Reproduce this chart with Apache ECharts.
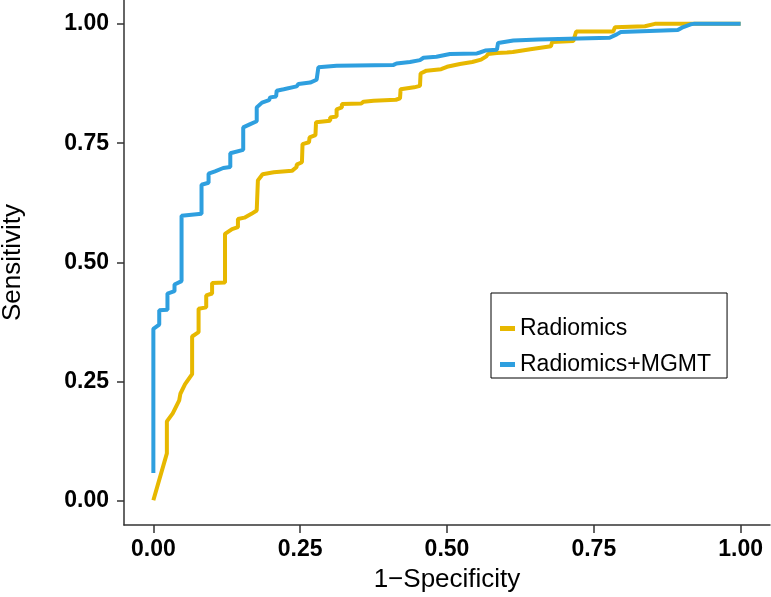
<!DOCTYPE html>
<html>
<head>
<meta charset="utf-8">
<script src="https://cdn.jsdelivr.net/npm/echarts@6/dist/echarts.min.js"></script>
<style>html,body{margin:0;padding:0;background:#fff}#c{width:771px;height:597px}</style>
</head>
<body>
<div id="c"></div>
<script>
var seriesNames = ["Radiomics", "Radiomics+MGMT"];
var tickValues = [0, 0.25, 0.5, 0.75, 1];

var radFpr = [0, 0.023, 0.023, 0.033, 0.044, 0.046, 0.054, 0.066, 0.066, 0.077, 0.077, 0.090, 0.090, 0.100, 0.100, 0.122, 0.122, 0.134, 0.144, 0.144, 0.155, 0.167, 0.176, 0.178, 0.186, 0.205, 0.236, 0.244, 0.244, 0.253, 0.254, 0.265, 0.266, 0.276, 0.277, 0.301, 0.301, 0.312, 0.312, 0.321, 0.321, 0.354, 0.358, 0.375, 0.413, 0.420, 0.421, 0.444, 0.454, 0.455, 0.465, 0.490, 0.500, 0.522, 0.543, 0.558, 0.567, 0.570, 0.585, 0.602, 0.612, 0.642, 0.643, 0.677, 0.679, 0.715, 0.720, 0.783, 0.786, 0.837, 0.854, 1.0];
var radTpr = [0.002, 0.100, 0.167, 0.184, 0.211, 0.225, 0.245, 0.266, 0.345, 0.354, 0.403, 0.406, 0.431, 0.435, 0.457, 0.458, 0.560, 0.570, 0.574, 0.591, 0.594, 0.602, 0.609, 0.672, 0.685, 0.689, 0.692, 0.700, 0.705, 0.710, 0.748, 0.752, 0.762, 0.767, 0.794, 0.797, 0.804, 0.806, 0.821, 0.825, 0.832, 0.833, 0.837, 0.839, 0.841, 0.844, 0.863, 0.867, 0.870, 0.896, 0.902, 0.905, 0.910, 0.916, 0.920, 0.925, 0.932, 0.937, 0.939, 0.940, 0.941, 0.947, 0.951, 0.953, 0.962, 0.964, 0.984, 0.984, 0.993, 0.995, 1.0, 1.0];

var combFpr = [0, 0, 0.010, 0.010, 0.024, 0.024, 0.036, 0.036, 0.048, 0.048, 0.082, 0.082, 0.094, 0.094, 0.105, 0.119, 0.131, 0.131, 0.153, 0.153, 0.165, 0.176, 0.176, 0.185, 0.197, 0.199, 0.209, 0.210, 0.222, 0.244, 0.247, 0.267, 0.278, 0.281, 0.312, 0.409, 0.414, 0.437, 0.454, 0.460, 0.482, 0.505, 0.551, 0.556, 0.565, 0.585, 0.587, 0.613, 0.656, 0.658, 0.777, 0.789, 0.796, 0.893, 0.900, 0.915, 0.920, 1.0];
var combTpr = [0.059, 0.361, 0.370, 0.400, 0.401, 0.435, 0.440, 0.454, 0.461, 0.598, 0.602, 0.663, 0.667, 0.686, 0.691, 0.698, 0.700, 0.729, 0.736, 0.783, 0.790, 0.796, 0.825, 0.835, 0.840, 0.846, 0.848, 0.860, 0.863, 0.869, 0.874, 0.877, 0.883, 0.909, 0.912, 0.914, 0.917, 0.920, 0.924, 0.929, 0.931, 0.937, 0.938, 0.940, 0.944, 0.946, 0.960, 0.965, 0.967, 0.971, 0.971, 0.978, 0.983, 0.987, 0.992, 0.999, 1.0, 1.0];

function pairs(xs, ys) { return xs.map(function (x, i) { return [x, ys[i]]; }); }

var FONT = 'Liberation Sans, Arial, Helvetica, sans-serif';
function makeAxis(extra, labelMargin, tickLen) {
  return Object.assign({
    type: 'value',
    min: -0.05,
    max: 1.05,
    splitLine: { show: false },
    axisLine: { show: true, onZero: false, lineStyle: { color: '#333', width: 1.5 } },
    axisTick: { show: true, customValues: tickValues, length: tickLen, lineStyle: { color: '#333', width: 1.5 } },
    axisLabel: {
      customValues: tickValues,
      margin: labelMargin,
      formatter: function (v) { return v.toFixed(2); },
      color: '#000', fontSize: 23, fontWeight: 'bold', fontFamily: FONT
    },
    nameLocation: 'middle',
    nameTextStyle: { color: '#000', fontSize: 26, fontFamily: FONT }
  }, extra);
}

var chart = echarts.init(document.getElementById('c'), null, { renderer: 'canvas' });
chart.setOption({
  animation: false,
  backgroundColor: '#fff',
  grid: { left: 124, right: 1, top: 0, bottom: 72, containLabel: false, outerBoundsMode: 'none' },
  xAxis: makeAxis({ name: '1\u2212Specificity', nameGap: 42 }, 13, 8),
  yAxis: makeAxis({ name: 'Sensitivity', nameGap: 98 }, 15, 7),
  legend: {
    orient: 'vertical',
    left: 491, top: 293,
    padding: [24, 16, 2, 9],
    itemGap: 13,
    itemWidth: 15, itemHeight: 5,
    icon: 'rect',
    borderColor: '#000', borderWidth: 1,
    textStyle: { fontSize: 23, color: '#000', fontFamily: FONT },
    data: seriesNames
  },
  series: [
    { name: seriesNames[0], type: 'line', data: pairs(radFpr, radTpr), showSymbol: false, symbol: 'none',
      itemStyle: { color: '#E7B800' }, lineStyle: { color: '#E7B800', width: 4 } },
    { name: seriesNames[1], type: 'line', data: pairs(combFpr, combTpr), showSymbol: false, symbol: 'none',
      itemStyle: { color: '#2E9FDF' }, lineStyle: { color: '#2E9FDF', width: 4 } }
  ]
});
</script>
</body>
</html>
